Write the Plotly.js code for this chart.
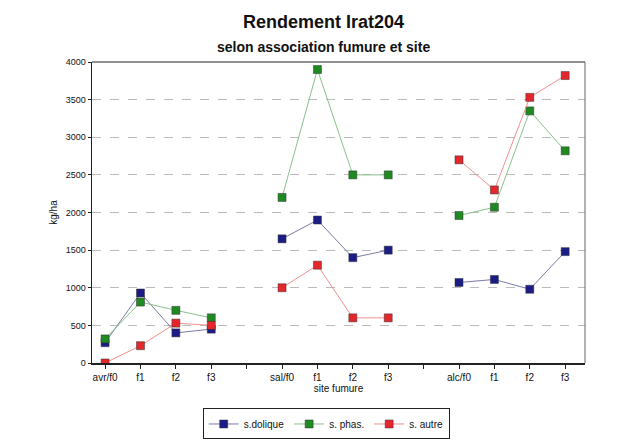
<!DOCTYPE html>
<html><head><meta charset="utf-8">
<script src="https://cdn.plot.ly/plotly-3.0.1.min.js"></script>
<style>html,body{margin:0;padding:0;background:#fff}#chart{width:625px;height:444px}</style>
</head><body><div id="chart"></div>
<script>
// categories (gap slots are empty strings)
var tickLabels = ["avr/f0","f1","f2","f3","","sal/f0","f1","f2","f3","","alc/f0","f1","f2","f3"];
var sDolique = [270, 930, 400, 450, null, 1650, 1900, 1400, 1500, null, 1070, 1110, 980, 1480];
var sPhas    = [320, 810, 700, 600, null, 2200, 3900, 2500, 2500, null, 1960, 2070, 3350, 2820];
var sAutre   = [0, 230, 530, 500, null, 1000, 1300, 600, 600, null, 2700, 2300, 3530, 3820];
var seriesNames = ["s.dolique", "s. phas.", "s. autre"];
var titleText = "Rendement Irat204";
var subtitleText = "selon association fumure et site";

var xPos = tickLabels.map(function(_, i){ return i; });
var font = "Liberation Sans, Arial, sans-serif";

function tr(name, y, mcol, lcol){
  return {x: xPos, y: y, name: name, type: "scatter", mode: "lines+markers",
    connectgaps: false,
    line: {color: lcol, width: 1},
    marker: {symbol: "square", size: 8, color: mcol, line: {color: "#333", width: 0.5}}};
}
var data = [
  tr(seriesNames[0], sDolique, "#1c1c86", "#7a7aa8"),
  tr(seriesNames[1], sPhas, "#1f8a22", "#8cc08c"),
  tr(seriesNames[2], sAutre, "#e5262a", "#f09090")
];
var layout = {
  width: 625, height: 444,
  margin: {l: 92, r: 40, t: 62, b: 81, autoexpand: false},
  paper_bgcolor: "#fff", plot_bgcolor: "#fff",
  font: {family: font, color: "#111", size: 10},
  annotations: [
    {text: "<b>" + titleText + "</b>", xref: "paper", yref: "paper", x: 0.47, y: 1, yshift: 40,
     xanchor: "center", yanchor: "middle", showarrow: false, font: {size: 18, color: "#111"}},
    {text: "<b>" + subtitleText + "</b>", xref: "paper", yref: "paper", x: 0.47, y: 1, yshift: 15,
     xanchor: "center", yanchor: "middle", showarrow: false, font: {size: 14, color: "#111"}}
  ],
  xaxis: {range: [-0.37, 13.56], tickmode: "array", tickvals: xPos, ticktext: tickLabels,
    showgrid: false, zeroline: false, showline: true, linecolor: "#222", linewidth: 1.5, mirror: false,
    ticks: "outside", ticklen: 4, tickcolor: "#222", tickfont: {size: 10},
    title: {text: "site fumure", font: {size: 10}, standoff: 2}},
  yaxis: {range: [0, 4000], tickvals: [0,500,1000,1500,2000,2500,3000,3500,4000],
    showgrid: true, gridcolor: "#bbb", griddash: "dash", gridwidth: 1,
    zeroline: false, showline: true, linecolor: "#222", linewidth: 1.5,
    ticks: "outside", ticklen: 3, tickcolor: "#222", tickfont: {size: 9},
    title: {text: "kg/ha", font: {size: 10}, standoff: 6}},
  showlegend: true,
  legend: {orientation: "h", x: 0.475, xanchor: "center", yref: "container", y: 0.08, yanchor: "top",
    bordercolor: "#222", borderwidth: 1, bgcolor: "#fff", font: {size: 10},
    itemwidth: 30, tracegroupgap: 0},
  shapes: [
    {type: "line", xref: "paper", yref: "paper", x0: 0, x1: 1, y0: 1, y1: 1, line: {color: "#222", width: 1}},
    {type: "line", xref: "paper", yref: "paper", x0: 1, x1: 1, y0: 0, y1: 1, line: {color: "#666", width: 1}}
  ]
};
Plotly.newPlot("chart", data, layout, {displayModeBar: false, staticPlot: true});
</script></body></html>
